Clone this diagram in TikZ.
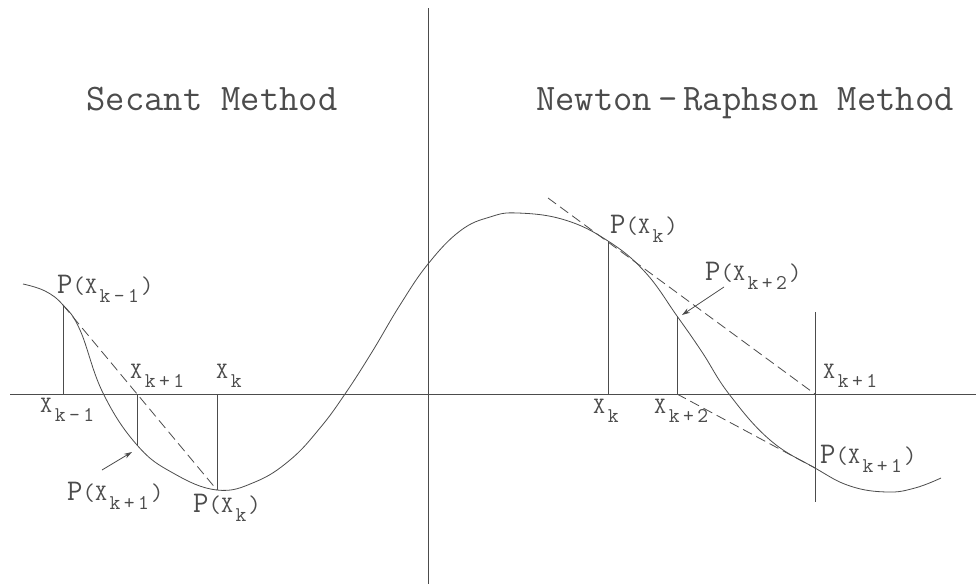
\documentclass[tikz,border=0pt]{standalone}
\usetikzlibrary{arrows.meta}
\definecolor{ink}{gray}{0.3}
\newcommand\Pl{{\fontsize{30}{30}\selectfont P}}
\newcommand\lp{{\fontsize{24}{24}\selectfont(}}
\newcommand\rp{{\fontsize{24}{24}\selectfont)}}
\newcommand\Xl{{\fontsize{23.5}{23.5}\selectfont X}}
\newcommand\sbx[1]{\kern2.5pt\raisebox{-9pt}{\fontsize{21}{21}\selectfont #1}\kern2pt}
\newcommand\kmo{k\kern3.5pt-\kern3.5pt1}
\newcommand\kpo{k\kern3.5pt+\kern3.5pt1}
\newcommand\kpt{k\kern3.5pt+\kern3.5pt2}
\begin{document}
\begin{tikzpicture}[x=1pt,y=-1pt,
  thin line/.style={draw=ink,line width=0.8pt},
  dashline/.style={draw=ink,line width=0.8pt,dash pattern=on 10pt off 5pt},
  lab/.style={anchor=base west,inner sep=0pt,text=ink,font=\ttfamily},
  ttl/.style={anchor=base,inner sep=0pt,text=ink,font=\fontsize{37.5}{37.5}\selectfont\ttfamily},
  arr/.style={draw=ink,line width=0.8pt,-{Stealth[length=8pt,width=5pt]}}]
\useasboundingbox (0,0) rectangle (976,584);
% axes
\coordinate (axL) at (10,394);
\coordinate (axR) at (976,394);
\coordinate (vT) at (428,8);
\coordinate (vB) at (428,584);
\draw[thin line] (axL) -- (axR);
\draw[thin line] (vT) -- (vB);
% curve
\draw[thin line] plot[smooth,tension=0.7] coordinates {
 (23,284) (45,291) (63,305) (80,330) (103,393) (137,445) (173,473) (217,490)
 (255,482) (290,460) (320,428) (345,394) (372,352) (400,305) (428,264) (460,231) (490,217) (518,213)
 (565,220) (608,241) (645,272) (677,316) (702,352) (729,394) (770,440)
 (815,468) (850,486) (887,492) (915,488) (941,478)};
% secant method points
\coordinate (Pkm1) at (63,305);
\coordinate (xkm1) at (63,394);
\coordinate (Pkp1) at (137,445);
\coordinate (xkp1) at (137,394);
\coordinate (Pk) at (217,490);
\coordinate (xk) at (217,394);
\draw[thin line] (xkm1) -- (Pkm1);
\draw[thin line] (xkp1) -- (Pkp1);
\draw[thin line] (xk) -- (Pk);
\draw[dashline] (Pkm1) -- (Pk);
% newton points
\coordinate (NPk) at (608,241);
\coordinate (Nxk) at (608,394);
\coordinate (NPk2) at (677,316);
\coordinate (Nxk2) at (677,394);
\coordinate (NxkT) at (815,312);
\coordinate (NxkB) at (815,502);
\coordinate (Nxk1) at (815,394);
\coordinate (NPk1) at (815,468);
\coordinate (T0) at (548,198);
\draw[thin line] (Nxk) -- (NPk);
\draw[thin line] (Nxk2) -- (NPk2);
\draw[thin line] (NxkT) -- (NxkB);
\draw[dashline] (T0) -- (Nxk1);
\draw[dashline] (Nxk2) -- (NPk1);
% arrows
\coordinate (a1s) at (102,470);
\coordinate (a1e) at (132,452);
\coordinate (a2s) at (724,287);
\coordinate (a2e) at (682,315);
\draw[arr] (a1s) -- (a1e);
\draw[arr] (a2s) -- (a2e);
% titles
\node[ttl] (t1) at (212,110) {Secant Method};
\node[ttl] (t2) at (745,110) {Newton\kern6pt-\kern6pt Raphson Method};
% labels left
\node[lab] (l1) at (57,293) {\Pl\lp\Xl\sbx{\kmo}\rp};
\node[lab] (l2) at (130,378) {\Xl\sbx{\kpo}};
\node[lab] (l3) at (216,378) {\Xl\sbx{k}};
\node[lab] (l4) at (40,412) {\Xl\sbx{\kmo}};
\node[lab] (l5) at (67,500) {\Pl\lp\Xl\sbx{\kpo}\rp};
\node[lab] (l6) at (193,512) {\Pl\lp\Xl\sbx{k}\rp};
% labels right
\node[lab] (r1) at (610,233) {\Pl\lp\Xl\sbx{k}\rp};
\node[lab] (r2) at (705,280) {\Pl\lp\Xl\sbx{\kpt}\rp};
\node[lab] (r3) at (823,378) {\Xl\sbx{\kpo}};
\node[lab] (r4) at (593,413) {\Xl\sbx{k}};
\node[lab] (r5) at (654,413) {\Xl\sbx{\kpt}};
\node[lab] (r6) at (820,463) {\Pl\lp\Xl\sbx{\kpo}\rp};
\end{tikzpicture}
\end{document}
